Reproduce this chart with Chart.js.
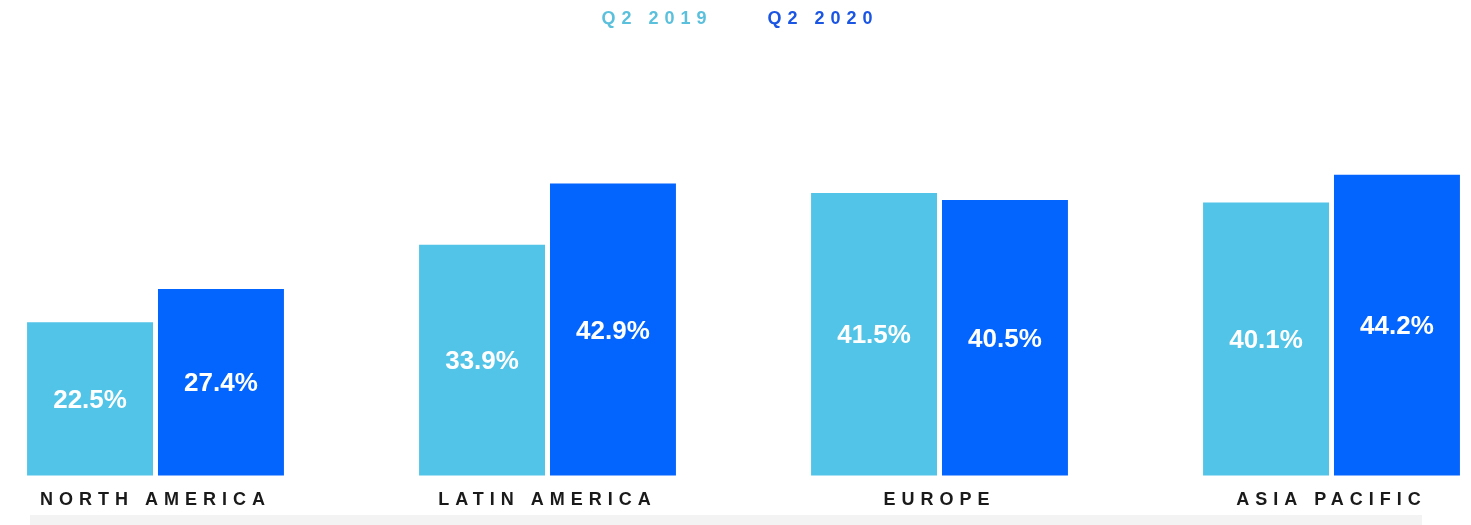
<!DOCTYPE html>
<html>
<script src="https://cdn.jsdelivr.net/npm/chart.js@4"></script>
<body style="margin:0;background:#fff;">
  <div style="position:relative;width:1471px;height:525px;">
    <div style="position:absolute;left:30px;top:515px;width:1392px;height:10px;background:#f3f3f3;"></div>
    <canvas id="myChart" width="1471" height="525" style="position:absolute;left:0;top:0;"></canvas>
  </div>
  <script>
    var regions = ['NORTH AMERICA', 'LATIN AMERICA', 'EUROPE', 'ASIA PACIFIC'];
    var q2_2019 = [22.5, 33.9, 41.5, 40.1];
    var q2_2020 = [27.4, 42.9, 40.5, 44.2];
    var seriesNames = ['Q2 2019', 'Q2 2020'];

    var lightBlue = '#52c4e7';
    var blue = '#0465fe';

    // spaced-out caps like the original
    const spacing = {
      id: 'spacing',
      beforeUpdate(chart) { chart.ctx.letterSpacing = '6px'; },
      beforeDraw(chart) { chart.ctx.letterSpacing = '6px'; }
    };

    const valueLabels = {
      id: 'valueLabels',
      afterDatasetsDraw(chart) {
        const ctx = chart.ctx;
        ctx.save();
        ctx.letterSpacing = '0px';
        ctx.fillStyle = '#fff';
        ctx.font = 'bold 26px "Liberation Sans", Arial, sans-serif';
        ctx.textAlign = 'center';
        ctx.textBaseline = 'middle';
        chart.data.datasets.forEach((ds, i) => {
          chart.getDatasetMeta(i).data.forEach((bar, j) => {
            ctx.fillText(ds.data[j].toFixed(1) + '%', bar.x, (bar.y + bar.base) / 2 + 2);
          });
        });
        ctx.restore();
      }
    };

    // empty side axes just to reserve room left/right of the plot
    const sideAxis = (pos, w) => ({
      type: 'linear',
      position: pos,
      grid: { display: false, drawTicks: false },
      border: { display: false },
      ticks: { display: false },
      afterFit: (scale) => { scale.width = w; }
    });

    new Chart('myChart', {
      type: 'bar',
      data: {
        labels: regions,
        datasets: [
          { label: seriesNames[0], data: q2_2019, backgroundColor: lightBlue },
          { label: seriesNames[1], data: q2_2020, backgroundColor: blue }
        ]
      },
      options: {
        responsive: false,
        animation: false,
        datasets: {
          bar: { categoryPercentage: 0.668, barPercentage: 0.962, clip: false }
        },
        layout: { padding: { left: 0, right: 0, top: -36, bottom: 0 } },
        plugins: {
          tooltip: { enabled: false },
          legend: {
            position: 'top',
            labels: {
              boxWidth: 0,
              padding: 46,
              font: { family: '"Liberation Sans", Arial, sans-serif', size: 18, weight: 'bold' },
              generateLabels: (chart) => chart.data.datasets.map((ds, i) => ({
                text: ds.label,
                fontColor: i == 0 ? '#5bc0dc' : '#1a55e3',
                fillStyle: 'rgba(0,0,0,0)',
                strokeStyle: 'rgba(0,0,0,0)',
                lineWidth: 0,
                datasetIndex: i
              }))
            }
          }
        },
        scales: {
          x: {
            offset: false,
            grid: { display: false, drawTicks: false },
            border: { display: false },
            ticks: {
              padding: 14,
              color: '#1a1a1a',
              font: { family: '"Liberation Sans", Arial, sans-serif', size: 18, weight: 'bold' }
            }
          },
          y: Object.assign(sideAxis('left', 155.5), { min: 0, max: 64.3 }),
          yRight: sideAxis('right', 139.5)
        }
      },
      plugins: [spacing, valueLabels]
    });
  </script>
</body>
</html>
